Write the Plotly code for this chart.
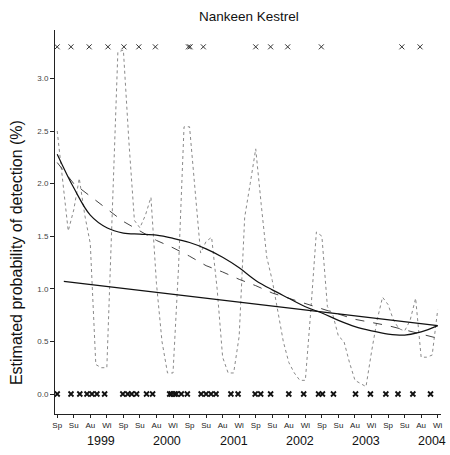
import plotly.graph_objects as go

# ---------------- data ----------------
season_labels = ["Sp", "Su", "Au", "Wi"] * 6
years = ["1999", "2000", "2001", "2002", "2003", "2004"]

# monthly observed detection probability (%), month 0 = start of Spring 1999
obs_month = list(range(70))
obs_value = [2.50, 2.00, 1.55, 1.75, 2.05, 1.70, 1.43, 0.28, 0.25, 0.25,
             1.70, 3.25, 3.27, 2.40, 1.65, 1.58, 1.70, 1.87, 1.05, 0.50,
             0.20, 0.20, 1.20, 2.54, 2.54, 1.90, 1.34, 1.45, 1.49, 1.00,
             0.35, 0.20, 0.20, 0.55, 1.68, 2.00, 2.33, 1.80, 1.30, 1.08,
             0.80, 0.50, 0.30, 0.20, 0.13, 0.13, 0.80, 1.54, 1.50, 0.83,
             0.75, 0.55, 0.50, 0.30, 0.13, 0.10, 0.07, 0.40, 0.70, 0.92,
             0.85, 0.70, 0.62, 0.60, 0.70, 0.91, 0.35, 0.35, 0.37, 0.80]

# running mean (dashed) and smoothed fit (solid curve), one value per season
season_month = [3 * i for i in range(24)]
running_mean = [2.20, 2.00, 1.88, 1.76, 1.64, 1.55, 1.46, 1.39, 1.31, 1.22,
                1.16, 1.09, 1.03, 0.96, 0.91, 0.86, 0.81, 0.76, 0.71, 0.68,
                0.65, 0.61, 0.57, 0.53]
smooth_value = [2.28, 1.96, 1.70, 1.58, 1.53, 1.52, 1.51, 1.48, 1.44, 1.38,
                1.30, 1.20, 1.08, 0.99, 0.91, 0.83, 0.77, 0.70, 0.64, 0.60,
                0.57, 0.56, 0.59, 0.65]

# linear trend (solid straight line)
trend_month = [1.2, 69]
trend_value = [1.07, 0.65]

# individual records: detections (top row) and non-detections (bottom row)
detect_month = [0, 2.5, 5.8, 9.2, 12.1, 14.8, 17.8, 23.8, 24.1, 26.5, 36,
                38.7, 41.8, 47.9, 62.5, 65.8]
detect_level = 3.3
nondetect_month = [0, 2.5, 4.1, 5.4, 6.3, 7.2, 8.6, 11.9, 12.8, 13.5, 14.4,
                   16.2, 17.3, 20.4, 20.7, 21.3, 21.6, 22.5, 23.6, 26.1, 27,
                   27.9, 28.8, 31.5, 32.8, 35.9, 36.9, 38.7, 42, 44.7, 47.4,
                   48.1, 50.1, 54.1, 56.8, 59.6, 61.8, 64.5, 67.7]
nondetect_level = 0.0

# ---------------- figure ----------------
FONT = "Arial, Liberation Sans, sans-serif"
fig = go.Figure()

fig.add_trace(go.Scatter(x=obs_month, y=obs_value, mode="lines",
                         line=dict(color="#8a8a8a", width=1, dash="dot"),
                         showlegend=False, hoverinfo="skip"))
fig.add_trace(go.Scatter(x=season_month, y=running_mean, mode="lines",
                         line=dict(color="#444444", width=1, dash="dash"),
                         showlegend=False, hoverinfo="skip"))
fig.add_trace(go.Scatter(x=season_month, y=smooth_value, mode="lines",
                         line=dict(color="#111111", width=1.2, shape="spline",
                                   smoothing=1),
                         showlegend=False, hoverinfo="skip"))
fig.add_trace(go.Scatter(x=trend_month, y=trend_value, mode="lines",
                         line=dict(color="#111111", width=1.2),
                         showlegend=False, hoverinfo="skip"))
fig.add_trace(go.Scatter(x=detect_month, y=[detect_level] * len(detect_month),
                         mode="markers",
                         marker=dict(symbol="x-thin", size=5, color="#333333",
                                     line=dict(width=1, color="#333333")),
                         showlegend=False, hoverinfo="skip"))
fig.add_trace(go.Scatter(x=nondetect_month, y=[nondetect_level] * len(nondetect_month),
                         mode="markers",
                         marker=dict(symbol="x-thin", size=5, color="#111111",
                                     line=dict(width=1.8, color="#111111")),
                         showlegend=False, hoverinfo="skip"))

annotations = []
for k, yr in enumerate(years):
    annotations.append(dict(x=12 * k + 8, y=0, xref="x", yref="paper", yshift=-27,
                            text=yr, showarrow=False, xanchor="center",
                            yanchor="middle",
                            font=dict(family=FONT, size=12.5, color="#111")))
annotations.append(dict(x=-0.1, y=0.42, xref="paper", yref="paper",
                        text="Estimated probability of detection (%)",
                        textangle=-90, showarrow=False,
                        xanchor="center", yanchor="middle",
                        font=dict(family=FONT, size=16, color="#111")))

fig.update_layout(
    width=450, height=455,
    margin=dict(l=55, r=7, t=30, b=41),
    paper_bgcolor="white", plot_bgcolor="white",
    title=dict(text="Nankeen Kestrel", x=0.553, xanchor="center",
               y=0.965, yanchor="middle",
               font=dict(family=FONT, size=13.5, color="#111")),
    annotations=annotations,
    xaxis=dict(range=[-0.4, 69.6], tickmode="array", tickvals=season_month,
               ticktext=season_labels, showgrid=False, zeroline=False,
               showline=True, linecolor="#222", linewidth=1,
               ticks="outside", ticklen=3, tickcolor="#222",
               tickfont=dict(family=FONT, size=8, color="#222")),
    yaxis=dict(range=[-0.19, 3.46], tickmode="array",
               tickvals=[0, 0.5, 1.0, 1.5, 2.0, 2.5, 3.0],
               ticktext=["0.0", "0.5", "1.0", "1.5", "2.0", "2.5", "3.0"],
               showgrid=False, zeroline=False,
               showline=True, linecolor="#222", linewidth=1,
               ticks="outside", ticklen=4, tickcolor="#222",
               tickfont=dict(family=FONT, size=8, color="#444")),
)

fig.write_html("out.html")
